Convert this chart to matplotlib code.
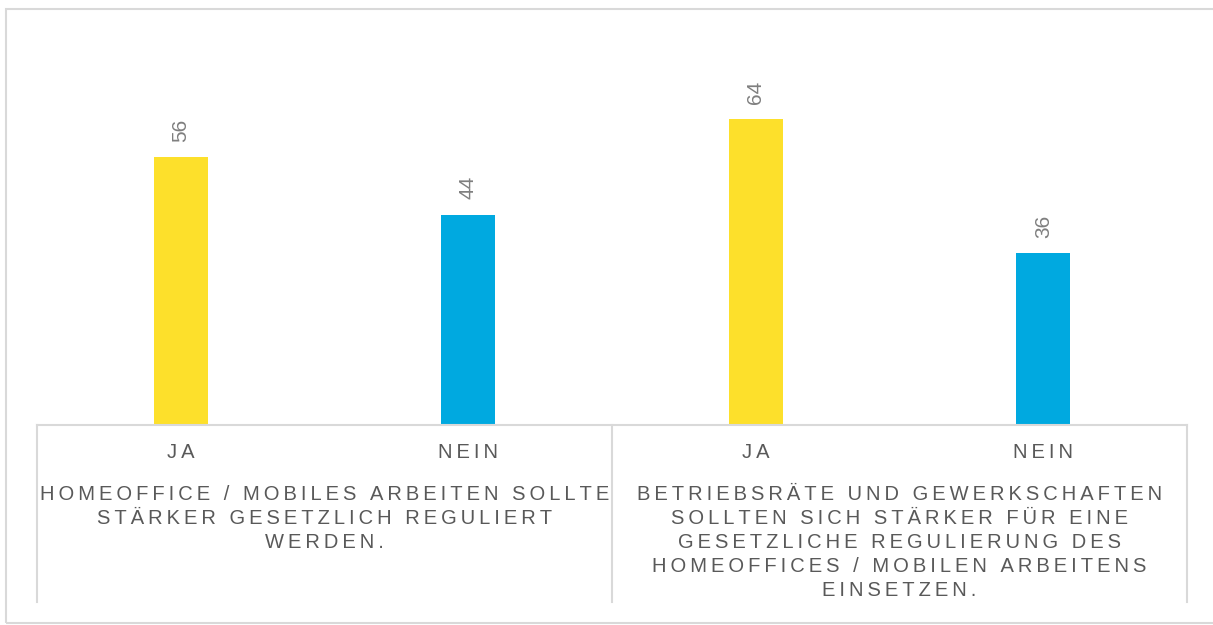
import matplotlib.pyplot as plt
from matplotlib.patches import Rectangle
import matplotlib.transforms as mtransforms

plt.rcParams['font.family'] = ['Liberation Sans', 'DejaVu Sans']

answers = ["JA", "NEIN", "JA", "NEIN"]
values = [56, 44, 64, 36]
bar_colors = ["#FDE02B", "#00A9E0", "#FDE02B", "#00A9E0"]
questions = [
    "HOMEOFFICE / MOBILES ARBEITEN SOLLTE\nSTÄRKER GESETZLICH REGULIERT\nWERDEN.",
    "BETRIEBSRÄTE UND GEWERKSCHAFTEN\nSOLLTEN SICH STÄRKER FÜR EINE\nGESETZLICHE REGULIERUNG DES\nHOMEOFFICES / MOBILEN ARBEITENS\nEINSETZEN.",
]

text_grey = "#595959"
line_grey = "#d9d9d9"


def spaced(s, gap="\u2009"):
    # fake letter spacing with thin spaces
    return "\n".join(gap.join(line) for line in s.split("\n"))


W, H = 1213, 625
fig = plt.figure(figsize=(W / 100, H / 100), dpi=100)

# outer frame
fig.patches.append(Rectangle((6 / W, 2 / H), 1.2, 614 / H, transform=fig.transFigure,
                             fill=False, edgecolor=line_grey, linewidth=1.5))

ymax = 80
ax = fig.add_axes([37 / W, 200 / H, 1150 / W, ymax * 4.78 / H])
x = list(range(len(values)))
ax.bar(x, values, width=0.188, color=bar_colors, zorder=2)
ax.set_xlim(-0.5, 3.5)
ax.set_ylim(0, ymax)
ax.axis("off")

for xi, v in zip(x, values):
    ax.annotate(str(v), (xi, v), xytext=(0, 11), textcoords="offset points",
                rotation=90, ha="center", va="bottom", fontsize=15, color="#7f7f7f")

trans = mtransforms.blended_transform_factory(ax.transData, ax.transAxes)
bottom = -(602 - 425) / (ymax * 4.78)
ax.plot([-0.5, 3.5], [0, 0], color=line_grey, lw=1.5, transform=trans, clip_on=False)
for sx in [-0.5, 1.5, 3.5]:
    ax.plot([sx, sx], [0, bottom], color=line_grey, lw=1.5, transform=trans, clip_on=False)

px = 1 / (ymax * 4.78)
for xi, a in zip(x, answers):
    ax.text(xi, -(452 - 425) * px, spaced(a), transform=trans, ha="center", va="center",
            fontsize=14.5, color=text_grey)

for i, q in enumerate(questions):
    ax.text(0.5 + 2 * i, -(485 - 425) * px, spaced(q), transform=trans, ha="center", va="top",
            fontsize=14.5, color=text_grey, linespacing=1.33, multialignment="center")

fig.savefig("out.png", dpi=100)
